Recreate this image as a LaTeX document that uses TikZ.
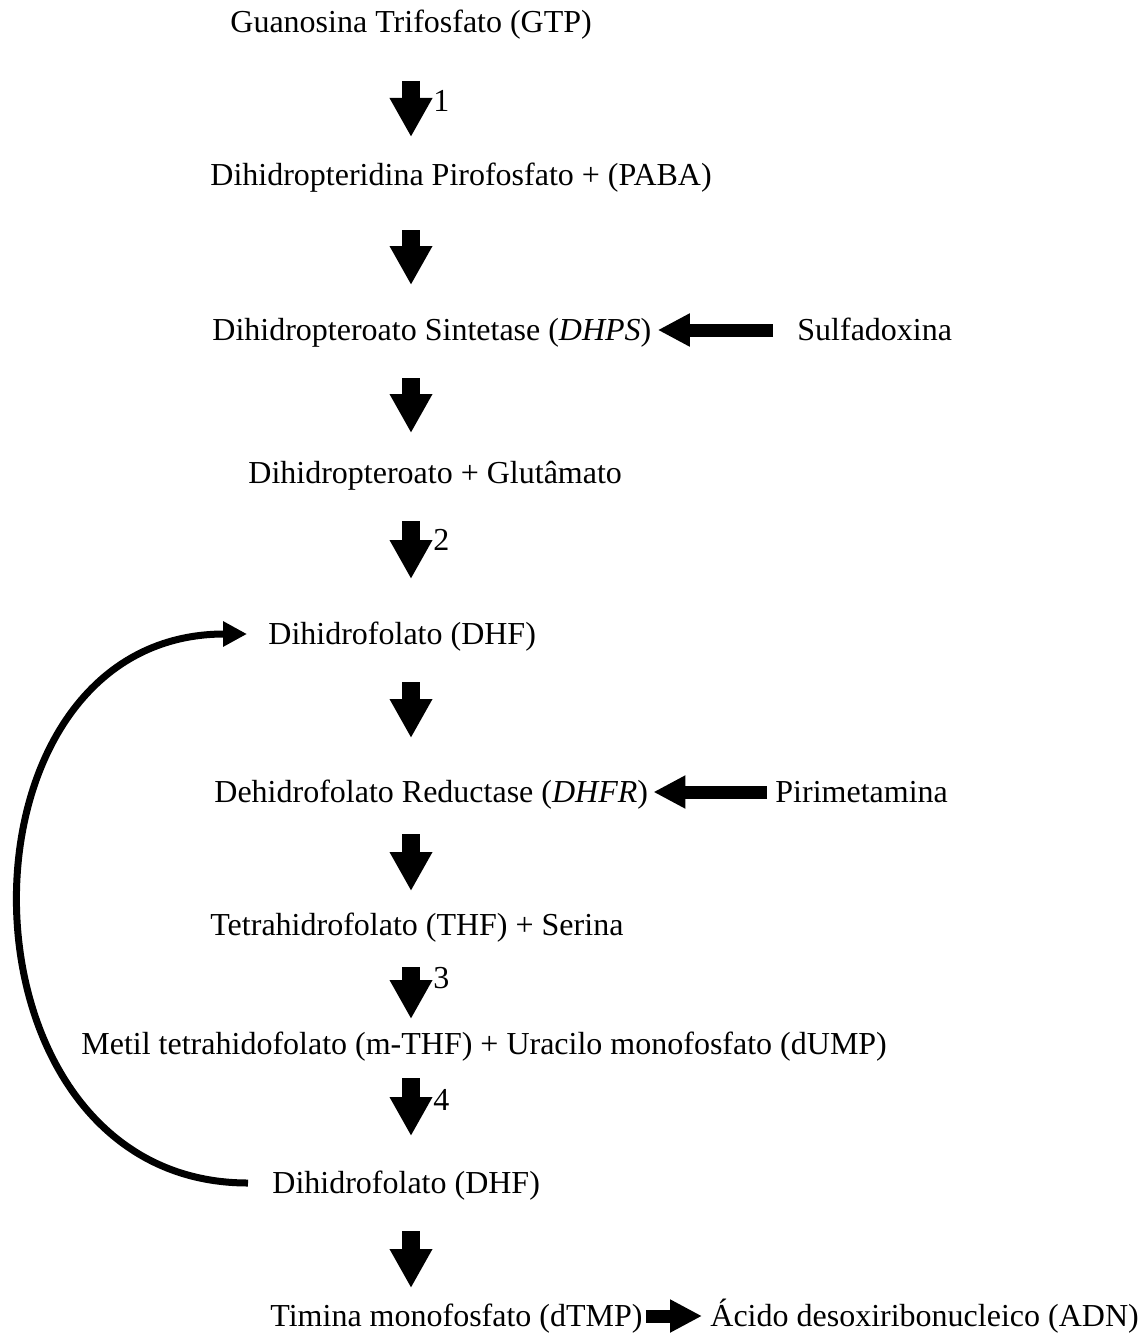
\documentclass[tikz,border=0pt]{standalone}
\usepackage{fontspec}
\setmainfont{Liberation Serif}
\usetikzlibrary{arrows.meta}
\begin{document}
\begin{tikzpicture}[x=0.5pt,y=-0.5pt,
  txt/.style={inner sep=0pt, anchor=base west, text height=13pt, text depth=3pt,
    font=\fontsize{16pt}{19pt}\selectfont},
  lbl/.style={inner sep=0pt, anchor=base west, font=\fontsize{16pt}{19pt}\selectfont},
  downarr/.style={line width=9pt, -{Triangle[width=20pt,length=19.5pt]}},
  horarr/.style={line width=6.5pt, -{Triangle[width=15.5pt,length=16pt]}},
  curvearr/.style={line width=3.5pt, -{Triangle[width=12pt,length=12pt]}}]
\useasboundingbox (0,0) rectangle (1143,1338);
\coordinate (col) at (411,0);
% texts
\node[txt] (t1) at (230,33) {Guanosina Trifosfato (GTP)};
\node[txt] (t2) at (210,185) {Dihidropteridina Pirofosfato + (PABA)};
\node[txt] (t3) at (212,340) {Dihidropteroato Sintetase (\textit{DHPS})};
\node[txt] (sulf) at (797,340) {Sulfadoxina};
\node[txt] (t4) at (248,483) {Dihidropteroato + Glutâmato};
\node[txt] (t5) at (268,644) {Dihidrofolato (DHF)};
\node[txt] (t6) at (214,802) {Dehidrofolato Reductase (\textit{DHFR})};
\node[txt] (piri) at (775,802) {Pirimetamina};
\node[txt] (t7) at (210,935) {Tetrahidrofolato (THF) + Serina};
\node[txt] (t8) at (81,1054) {Metil tetrahidofolato (m-THF) + Uracilo monofosfato (dUMP)};
\node[txt] (t9) at (272,1193) {Dihidrofolato (DHF)};
\node[txt] (t10) at (270,1326) {Timina monofosfato (dTMP)};
\node[txt] (adn) at (710,1326) {Ácido desoxiribonucleico (ADN)};
% step labels
\node[lbl] (n1) at (433,112) {1};
\node[lbl] (n2) at (433,550) {2};
\node[lbl] (n3) at (433,988) {3};
\node[lbl] (n4) at (433,1110) {4};
% vertical block arrows
\draw[downarr, shorten <=24pt, shorten >=24pt] (t1.base -| col) -- (t2.base -| col);
\draw[downarr, shorten <=22.5pt, shorten >=27.5pt] (t2.base -| col) -- (t3.base -| col);
\draw[downarr, shorten <=19pt, shorten >=25pt] (t3.base -| col) -- (t4.base -| col);
\draw[downarr, shorten <=19pt, shorten >=32.5pt] (t4.base -| col) -- (t5.base -| col);
\draw[downarr, shorten <=19pt, shorten >=32pt] (t5.base -| col) -- (t6.base -| col);
\draw[downarr, shorten <=16pt, shorten >=22pt] (t6.base -| col) -- (t7.base -| col);
\draw[downarr, shorten <=16pt, shorten >=17.5pt] (t7.base -| col) -- (t8.base -| col);
\draw[downarr, shorten <=12pt, shorten >=28.5pt] (t8.base -| col) -- (t9.base -| col);
\draw[downarr, shorten <=19pt, shorten >=19pt] (t9.base -| col) -- (t10.base -| col);
% horizontal block arrows
\draw[horarr, shorten <=12pt, shorten >=3pt] (sulf.west) -- (t3.east);
\draw[horarr, shorten <=4pt, shorten >=2.5pt] (piri.west) -- (t6.east);
\draw[horarr, shorten <=1.5pt, shorten >=4pt] (t10.east) -- (adn.west);
% recycling arrow
\draw[curvearr, shorten <=12pt, shorten >=10.5pt] (t9.west) to[out=180, in=180, looseness=1.52] (t5.west);
\end{tikzpicture}
\end{document}
